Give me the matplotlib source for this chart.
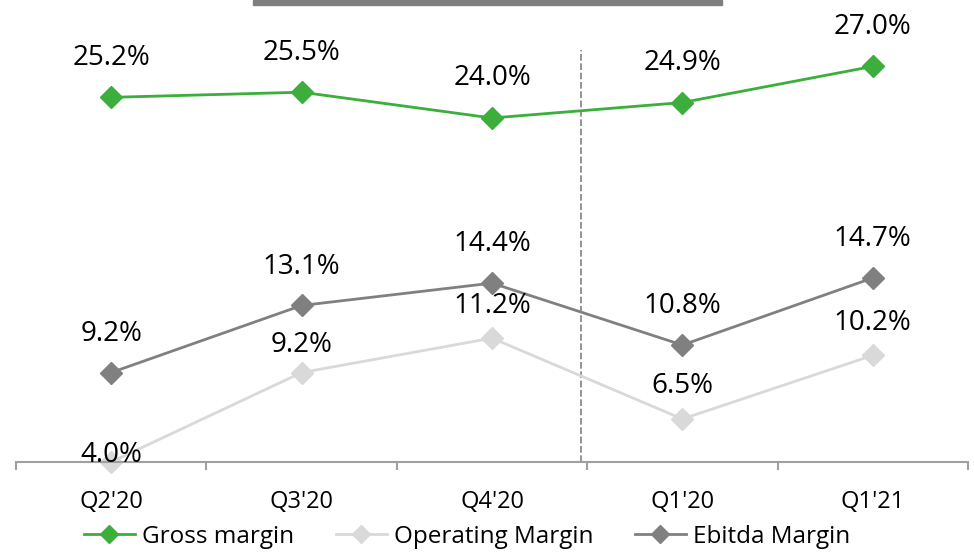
import matplotlib.pyplot as plt
from matplotlib.patches import Rectangle

plt.rcParams['font.family'] = ['Open Sans', 'DejaVu Sans']

quarters = ["Q2'20", "Q3'20", "Q4'20", "Q1'20", "Q1'21"]
gross = [25.2, 25.5, 24.0, 24.9, 27.0]
operating = [4.0, 9.2, 11.2, 6.5, 10.2]
ebitda = [9.2, 13.1, 14.4, 10.8, 14.7]

green = '#3BAE3B'
light = '#D9D9D9'
dark = '#808080'

W, H = 974, 556
fig = plt.figure(figsize=(W / 100, H / 100), dpi=100)
# axes in pixel terms: x 16..968, bottom at 462, top at 0
ax = fig.add_axes([16 / W, (H - 462) / H, 952 / W, 462 / H])

x = list(range(len(quarters)))
px_per_pct = 17.2
ax.set_xlim(-0.5, len(quarters) - 0.5)
ax.set_ylim(4.0, 4.0 + 462 / px_per_pct)

series = [
    ('Gross margin', gross, green, 28.5),
    ('Operating Margin', operating, light, 23.5),
    ('Ebitda Margin', ebitda, dark, 28.0),
]
for name, vals, col, off in series:
    ax.plot(x, vals, color=col, lw=2, marker='D', ms=11, label=name,
            clip_on=False, zorder=3)
    for i, v in enumerate(vals):
        o = off
        if name == 'Operating Margin' and i == 0:
            o = 5
        elif name == 'Operating Margin' and i == 1:
            o = 20
        ax.annotate(f'{v:.1f}%', (i, v), xytext=(0, o), textcoords='offset points',
                    ha='center', va='center', fontsize=20, color='black', zorder=5)

# separator between periods
ax.plot([2.467, 2.467], [4.0, 4.0 + (462 - 50) / px_per_pct], color=dark,
        lw=1.2, ls=(0, (4, 1.6)), zorder=1)

for s in ['top', 'right', 'left']:
    ax.spines[s].set_visible(False)
ax.spines['bottom'].set_color('#A0A0A0')
ax.spines['bottom'].set_linewidth(1.5)
ax.spines['bottom'].set_zorder(4)
ax.set_yticks([])
ax.set_xticks(x)
ax.set_xticklabels(quarters, fontsize=17)
ax.tick_params(axis='x', which='major', length=0, pad=20)
ax.set_xticks([i - 0.5 for i in range(len(quarters) + 1)], minor=True)
ax.tick_params(axis='x', which='minor', length=6, width=1.5, color='#A0A0A0')

fig.legend(loc='center', bbox_to_anchor=(467 / W, 1 - 537 / H), ncol=3,
           frameon=False, fontsize=17.5, handlelength=2.1, handletextpad=0.3,
           columnspacing=1.7, markerscale=0.8)

# gray bar at the top
fig.patches.append(Rectangle((253 / W, 1 - 5 / H), 469 / W, 5 / H,
                             transform=fig.transFigure, color='#7F7F7F'))

fig.savefig('out.png', dpi=100)
